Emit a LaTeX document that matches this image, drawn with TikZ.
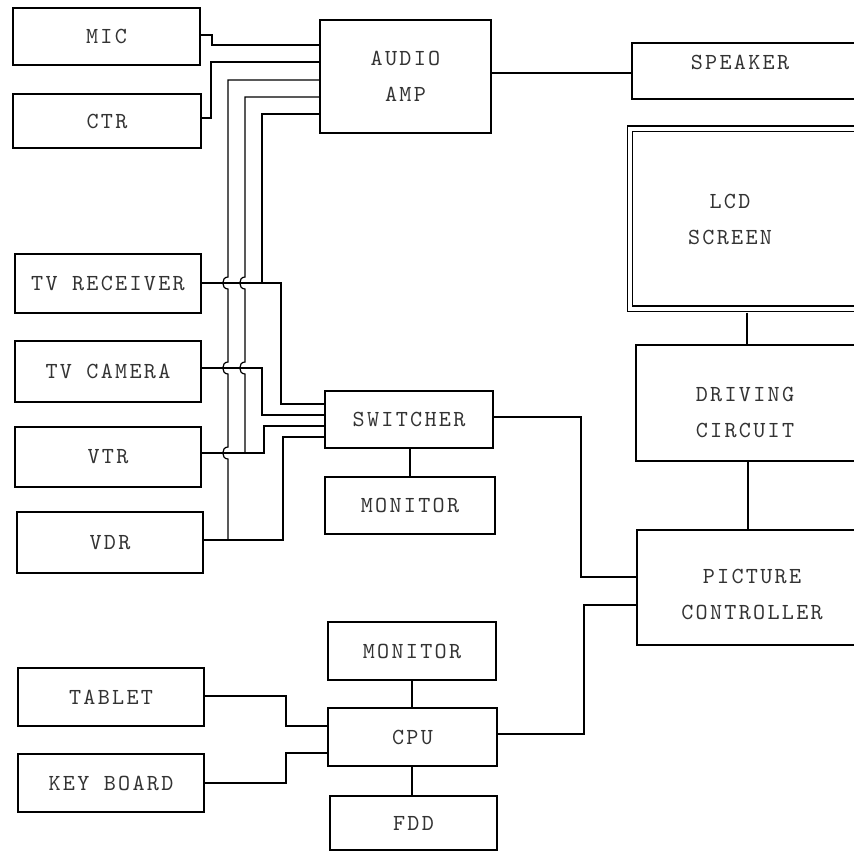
\documentclass[tikz,border=0pt]{standalone}
\usepackage{fontspec}
\newfontfamily\tw[LetterSpace=10]{lmmono10-regular.otf}
\newcommand\twfont{\tw\fontsize{23}{36}\selectfont}
\begin{document}
\begin{tikzpicture}[x=1pt,y=-1pt,line width=1.2pt,
  bx/.style 2 args={draw, rectangle, inner sep=0pt, minimum width=#1pt, minimum height=#2pt,
    font=\twfont, align=center, text=black!80},
  txt/.style={inner sep=0pt, font=\twfont, align=center, text=black!80},
  wire/.style={draw, line width=1.2pt}]
\useasboundingbox (0,0) rectangle (854,852);
\clip (0,0) rectangle (854,852);
% left column
\node[bx={187}{57}] (mic) at (106.5,36.5) {MIC};
\node[bx={188}{54}] (ctr) at (107,121) {CTR};
\node[bx={186}{59}] (tvr) at (108,283.5) {TV RECEIVER};
\node[bx={186}{61}] (tvc) at (108,371.5) {TV CAMERA};
\node[bx={186}{60}] (vtr) at (108,457) {VTR};
\node[bx={186}{61}] (vdr) at (110,542.5) {VDR};
\node[bx={186}{58}] (tab) at (111,697) {TABLET};
\node[bx={186}{58}] (kb) at (111,783) {KEY BOARD};
% middle column
\node[bx={171}{113}] (amp) at (405.5,76.5) {AUDIO\\AMP};
\node[bx={168}{57}] (sw) at (409,419.5) {SWITCHER};
\node[bx={170}{57}] (mon1) at (410,505.5) {MONITOR};
\node[bx={168}{58}] (mon2) at (412,651) {MONITOR};
\node[bx={169}{58}] (cpu) at (412.5,737) {CPU};
\node[bx={167}{54}] (fdd) at (413.5,823) {FDD};
% right column
\node[bx={230}{56}] (spk) at (747,71) {};
\node[txt] (spktxt) at (740,62) {SPEAKER};
\node[bx={240}{180}, double, double distance=4pt] (lcd) at (750,218.5) {};
\node[txt] (lcdtxt) at (730,219.5) {LCD\\SCREEN};
\node[bx={226}{116}] (drv) at (749,403) {};
\node[txt] (drvtxt) at (745,412.5) {DRIVING\\CIRCUIT};
\node[bx={225}{115}] (pic) at (749.5,587.5) {};
\node[txt] (pictxt) at (752,594.5) {PICTURE\\CONTROLLER};
% audio inputs
\draw[wire] (mic.east |- 0,35) -- (212,35) -- (212,45) -- (amp.west |- 0,45);
\draw[wire] (ctr.east |- 0,118) -- (211,118) -- (211,62) -- (amp.west |- 0,62);
\draw[wire] (amp.west |- 0,80) -- (228,80) -- (228,277)
  .. controls (221,277) and (221,289) .. (228,289) -- (228,362)
  .. controls (221,362) and (221,374) .. (228,374) -- (228,447)
  .. controls (221,447) and (221,459) .. (228,459) -- (228,540);
\draw[wire] (amp.west |- 0,97) -- (245,97) -- (245,277)
  .. controls (238,277) and (238,289) .. (245,289) -- (245,362)
  .. controls (238,362) and (238,374) .. (245,374) -- (245,453);
\draw[wire] (amp.west |- 0,114) -- (262,114) -- (262,283);
% switcher inputs
\draw[wire] (tvr.east |- 0,283) -- (281,283) -- (281,404) -- (sw.west |- 0,404);
\draw[wire] (tvc.east |- 0,368) -- (262,368) -- (262,415) -- (sw.west |- 0,415);
\draw[wire] (vtr.east |- 0,453) -- (264,453) -- (264,426) -- (sw.west |- 0,426);
\draw[wire] (vdr.east |- 0,540) -- (283,540) -- (283,437) -- (sw.west |- 0,437);
% others
\draw[wire] (amp.east |- 0,73) -- (spk.west |- 0,73);
\draw[wire] ([yshift=-3.5pt]lcd.south -| 747,0) -- (drv.north -| 747,0);
\draw[wire] (drv.south -| 748,0) -- (pic.north -| 748,0);
\draw[wire] (sw.east |- 0,417) -- (581,417) -- (581,577) -- (pic.west |- 0,577);
\draw[wire] (cpu.east |- 0,734) -- (584,734) -- (584,605) -- (pic.west |- 0,605);
\draw[wire] (sw.south -| 410,0) -- (mon1.north -| 410,0);
\draw[wire] (mon2.south -| 412,0) -- (cpu.north -| 412,0);
\draw[wire] (cpu.south -| 412,0) -- (fdd.north -| 412,0);
\draw[wire] (tab.east |- 0,696) -- (286,696) -- (286,726) -- (cpu.west |- 0,726);
\draw[wire] (kb.east |- 0,783) -- (286,783) -- (286,753) -- (cpu.west |- 0,753);
\end{tikzpicture}
\end{document}
